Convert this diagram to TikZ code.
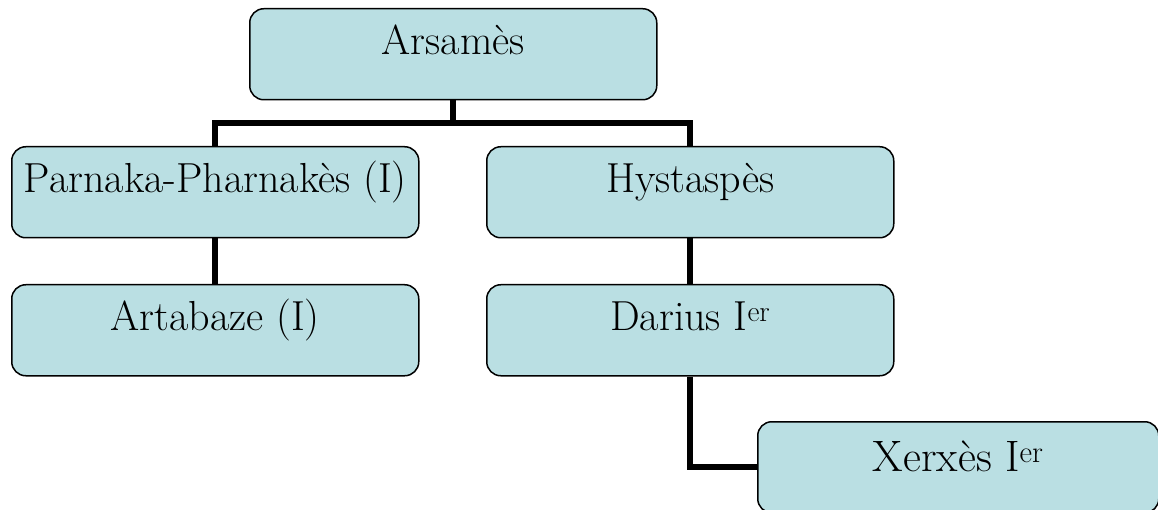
\documentclass[tikz,border=0pt]{standalone}
\usepackage{xcolor}
\definecolor{boxfill}{RGB}{186,223,227}

\begin{document}
\begin{tikzpicture}[x=1pt,y=-1pt,
    person/.style={draw=black,line width=1.5pt,fill=boxfill,rounded corners=14pt,
        anchor=north west,minimum width=407pt,inner xsep=0pt,inner ysep=0pt,
        text height=46pt,text depth=45pt,font=\fontsize{42}{48}\selectfont},
    link/.style={line width=6pt,black}]
    \useasboundingbox (0,0) rectangle (1158,510);
    \clip (0,0) rectangle (1158,510);
    % family boxes
    \node[person] (ars) at (249,8) {Arsamès};
    \node[person] (par) at (11,146) {Parnaka-Pharnakès (I)};
    \node[person] (hys) at (486,146) {Hystaspès};
    \node[person] (art) at (11,284) {Artabaze (I)};
    \node[person] (dar) at (486,284) {Darius I\textsuperscript{er}};
    \node[person,minimum width=401pt,text height=50pt,text depth=41pt,
        font=\fontsize{44}{50}\selectfont] (xer) at (757,421) {Xerxès I\textsuperscript{er}};
    % links
    \coordinate (fork) at (ars.south |- 0,123);
    \draw[link] (ars.south) -- (fork);
    \draw[link] (par.north) |- (fork) -| (hys.north);
    \draw[link] (par.south) -- (art.north);
    \draw[link] (hys.south) -- (dar.north);
    \draw[link] (dar.south) |- (xer.west);
\end{tikzpicture}
\end{document}
